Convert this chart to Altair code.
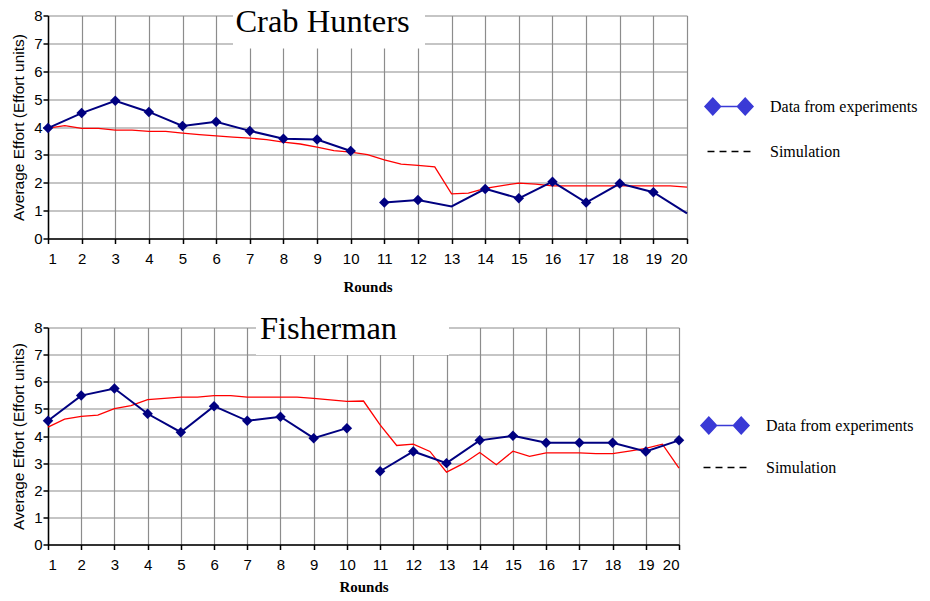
import altair as alt
import pandas as pd

rounds = list(range(1, 21))
series = ["Data from experiments", "Simulation"]

crab_exp = [3.96, 4.50, 4.94, 4.54, 4.04, 4.19, 3.86, 3.58, 3.55, 3.14,
            1.29, 1.38, 1.15, 1.78, 1.44, 2.04, 1.29, 1.97, 1.66, 0.90]
crab_markers = [True, True, True, True, True, True, True, True, True, True,
                True, True, False, True, True, True, True, True, True, False]

sim_rounds = [1, 1.5, 2, 2.5, 3, 3.5, 4, 4.5, 5, 5.5, 6, 6.5, 7, 7.5, 8, 8.5,
              9, 9.5, 10, 10.5, 11, 11.5, 12, 12.5, 13, 13.5, 14, 14.5, 15,
              15.5, 16, 16.5, 17, 17.5, 18, 18.5, 19, 19.5, 20]
crab_sim = [3.96, 4.05, 3.95, 3.95, 3.89, 3.89, 3.84, 3.84, 3.78, 3.73, 3.68,
            3.64, 3.60, 3.55, 3.46, 3.39, 3.28, 3.15, 3.10, 3.01, 2.82, 2.67,
            2.62, 2.57, 1.60, 1.63, 1.80, 1.90, 1.99, 1.95, 1.89, 1.89, 1.89,
            1.89, 1.89, 1.89, 1.89, 1.89, 1.84]

fish_exp = [4.56, 5.49, 5.75, 4.82, 4.14, 5.10, 4.56, 4.71, 3.92, 4.29,
            2.70, 3.43, 3.00, 3.84, 4.01, 3.75, 3.75, 3.75, 3.43, 3.84]
fish_markers = [True] * 20
fish_sim = [4.33, 4.62, 4.72, 4.77, 5.01, 5.12, 5.34, 5.39, 5.43, 5.43, 5.49,
            5.49, 5.43, 5.43, 5.43, 5.43, 5.39, 5.33, 5.28, 5.29, 4.41, 3.65,
            3.70, 3.43, 2.67, 2.98, 3.39, 2.94, 3.44, 3.25, 3.38, 3.38, 3.38,
            3.35, 3.35, 3.44, 3.54, 3.70, 2.82]

NAVY = "#000080"
LEG_BLUE = "#3a3ad6"
DIAMOND_LINE = ("M-2,0 L-1.35,-0.7 L-0.7,0 L-1.35,0.7 Z "
                "M-1.35,0 L1.35,0 "
                "M0.7,0 L1.35,-0.7 L2,0 L1.35,0.7 Z")
DASHES = ("M-1.79,0 L-1.21,0 M-0.79,0 L-0.21,0 "
          "M0.21,0 L0.79,0 M1.21,0 L1.79,0")


def panel(name, exp, markers, sim, w, h, box, text_xy, leg_xy, row_pad, title_pad):
    exp_df = pd.DataFrame({
        "Round": rounds, "Effort": exp,
        "Block": ["a" if r <= 10 else "b" for r in rounds],
        "Marker": markers,
    })
    sim_df = pd.DataFrame({"Round": sim_rounds, "Effort": sim})
    leg_df = pd.DataFrame({"Series": series})
    title_df = pd.DataFrame({"Title": [name]})

    x = alt.X("Round:Q", scale=alt.Scale(domain=[1, 20], nice=False, zero=False),
              axis=alt.Axis(values=rounds, format="d", title="Rounds",
                            titleFont="Liberation Serif", titleFontWeight="bold",
                            titleFontSize=15, titlePadding=title_pad, labelPadding=8))
    y = alt.Y("Effort:Q", scale=alt.Scale(domain=[0, 8], nice=False),
              axis=alt.Axis(values=list(range(9)), format="d",
                            title="Average Effort (Effort units)",
                            titleFont="Liberation Sans", titleFontWeight="normal",
                            titleFontSize=15.5, titlePadding=7, labelPadding=1))

    box_layer = alt.Chart(title_df).mark_rect(fill="white").encode(
        x=alt.value(box[0]), x2=alt.value(box[1]),
        y=alt.value(box[2]), y2=alt.value(box[3]))
    title_layer = alt.Chart(title_df).mark_text(
        font="Liberation Serif", fontSize=32.5, align="center",
        baseline="alphabetic", color="black").encode(
        x=alt.value(text_xy[0]), y=alt.value(text_xy[1]), text="Title:N")

    sim_line = alt.Chart(sim_df).mark_line(color="red", strokeWidth=1.3).encode(x=x, y=y)
    exp_line = alt.Chart(exp_df).mark_line(color=NAVY, strokeWidth=2).encode(
        x=x, y=y, detail="Block:N")
    exp_pts = alt.Chart(exp_df).transform_filter("datum.Marker").mark_point(
        shape="diamond", filled=True, size=110, color=NAVY, opacity=1).encode(x=x, y=y)

    leg = alt.Legend(title=None, orient="none", legendX=leg_xy[0], legendY=leg_xy[1],
                     labelFont="Liberation Serif", labelFontSize=16, labelColor="black",
                     symbolSize=576, labelOffset=28, rowPadding=row_pad, padding=0,
                     symbolStrokeWidth=1.5, labelLimit=300)
    leg_layer = alt.Chart(leg_df).transform_filter("false").mark_point(
        filled=False, fill=LEG_BLUE, opacity=1, strokeWidth=1.5).encode(
        color=alt.Color("Series:N", scale=alt.Scale(domain=series, range=[LEG_BLUE, "black"]),
                        legend=leg),
        shape=alt.Shape("Series:N", scale=alt.Scale(domain=series, range=[DIAMOND_LINE, DASHES]),
                        legend=leg))

    return alt.layer(box_layer, sim_line, exp_line, exp_pts, leg_layer, title_layer).properties(
        width=w, height=h)


top = panel("Crab Hunters", crab_exp, crab_markers, crab_sim, 639, 223,
            (185, 377, -7, 33), (274.5, 16.7), (668, 78), 20, 13)
bottom = panel("Fisherman", fish_exp, fish_markers, fish_sim, 631, 217,
               (208, 401, -17, 27.5), (280.5, 11), (664, 85), 17, 7)

chart = alt.vconcat(top, bottom, spacing=16).resolve_scale(
    color="independent", shape="independent").resolve_legend(
    color="independent", shape="independent").properties(
    padding={"left": 3, "top": -2.5, "right": 0, "bottom": 0}).configure_view(
    stroke=None).configure_axis(
    domainColor="black", domainWidth=1.5, tickColor="black", tickWidth=1.5,
    tickSize=5, gridColor="#8c8c8c", gridWidth=1.2, labelFont="Liberation Sans",
    labelFontSize=15, labelColor="black", titleColor="black")

chart.save("out.html", embed_options={"renderer": "svg", "actions": False})
